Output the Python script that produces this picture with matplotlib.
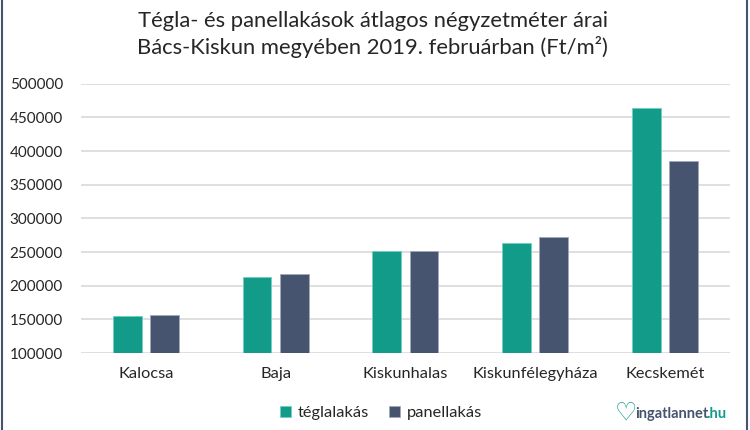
import matplotlib
matplotlib.use("Agg")
import matplotlib.pyplot as plt
import numpy as np

# data (Ft/m2)
cities = ['Kalocsa', 'Baja', 'Kiskunhalas', 'Kiskunfélegyháza', 'Kecskemét']
tegla = [155000, 213000, 252000, 263000, 464000]
panel = [157000, 218000, 252000, 273000, 386000]
yticks = [100000, 150000, 200000, 250000, 300000, 350000, 400000, 450000, 500000]

teal = '#139B8A'
navy = '#46546F'
txt = '#262626'

plt.rcParams['font.family'] = ['Lato', 'DejaVu Sans']

fig = plt.figure(figsize=(7.5, 4.3), dpi=100)
ax = fig.add_axes([0.108, 0.179, 0.865, 0.626])

x = np.arange(len(cities))
w = 0.223
off = 0.1435
ax.bar(x - off, tegla, w, color=teal, edgecolor='#6fd0c2', linewidth=0.6, zorder=3, label='téglalakás')
ax.bar(x + off, panel, w, color=navy, edgecolor='#a0a8bb', linewidth=0.6, zorder=3, label='panellakás')

ax.set_xlim(-0.5, len(cities) - 0.5)
ax.set_ylim(100000, 500000)
ax.set_yticks(yticks)
ax.set_yticklabels([str(v) for v in yticks])
ax.set_xticks(x)
ax.set_xticklabels(cities)
ax.tick_params(axis='both', length=0, colors=txt)
ax.tick_params(axis='y', labelsize=11, pad=13)
ax.tick_params(axis='x', labelsize=11.8, pad=10)
ax.grid(axis='y', color='#D9D9D9', linewidth=1.2, zorder=0)
for s in ax.spines.values():
    s.set_visible(False)

fig.text(0.497, 0.952, 'Tégla- és panellakások átlagos négyzetméter árai',
         ha='center', va='center', fontsize=15.8, color=txt)
fig.text(0.497, 0.890, 'Bács-Kiskun megyében 2019. februárban (Ft/m²)',
         ha='center', va='center', fontsize=15.8, color=txt)

# legend
leg = fig.legend(loc='center', bbox_to_anchor=(0.508, 0.040), ncol=2, frameon=False,
                 fontsize=11.8, handlelength=0.7, handleheight=0.7, handletextpad=0.4,
                 columnspacing=1.2)
for t in leg.get_texts():
    t.set_color(txt)

# logo
fig.text(0.834, 0.040, '♡', ha='center', va='center', fontsize=18, color=teal,
         family='DejaVu Sans', fontweight='bold')
fig.text(0.847, 0.038, 'ingatlannet', ha='left', va='center', fontsize=10.5,
         color=navy, fontweight='bold')
fig.text(0.942, 0.038, '.hu', ha='left', va='center', fontsize=10.5,
         color=teal, fontweight='bold')

# frame lines at the edges
fig.add_artist(plt.Line2D([0.003, 0.003], [0, 1], color=navy, linewidth=1.5))
fig.add_artist(plt.Line2D([0.996, 0.996], [0, 1], color=navy, linewidth=1.5))

fig.savefig('out.png', dpi=100)
